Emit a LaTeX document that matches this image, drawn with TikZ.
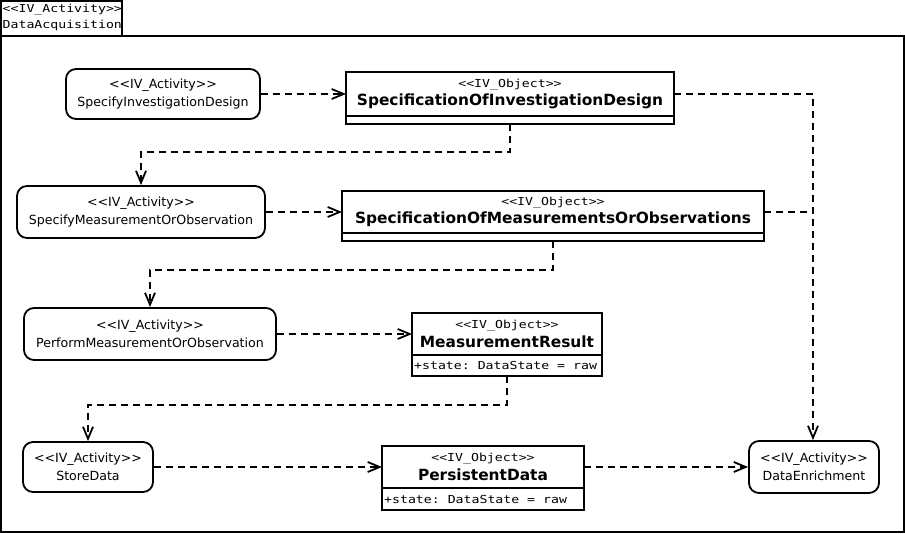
\documentclass[tikz,border=0pt]{standalone}
\usepackage{fontspec}
\setmainfont{DejaVu Sans}
\newfontfamily\umlmono[FakeStretch=1.2]{DejaVu Sans Mono}
\usetikzlibrary{arrows.meta}
\frenchspacing
\newcommand{\umlstereo}[1]{{\umlmono\fontsize{11}{12}\selectfont #1}}
\newcommand{\umlbname}[1]{{\bfseries\fontsize{15.4}{18}\selectfont #1}}
\begin{document}
\begin{tikzpicture}[x=1pt,y=-1pt,
  activity/.style={draw,line width=1.8pt,rounded corners=10pt,align=center,inner sep=0pt,font=\fontsize{12.6}{17.5}\selectfont},
  objname/.style={draw,line width=1.8pt,align=center,inner sep=0pt,outer sep=0pt},
  objattr/.style={draw,line width=1.8pt,anchor=north,inner sep=0pt,outer sep=0pt},
  attrtext/.style={anchor=west,inner sep=0pt,font=\umlmono\fontsize{11}{12}\selectfont},
  flow/.style={line width=1.8pt,dash pattern=on 7pt off 5pt,-{Straight Barb[length=12pt,width=10pt,line width=1.8pt]}},
  flowline/.style={line width=1.8pt,dash pattern=on 7pt off 5pt}]
\useasboundingbox (0,0) rectangle (905,534);
% frame
\draw[line width=1.8pt] (1,36) rectangle (904,532);
\node[draw,line width=1.8pt,minimum width=121pt,minimum height=35pt,inner sep=0pt,outer sep=0pt,anchor=north west] (title) at (1,1) {};
\node[anchor=north west,inner sep=0pt,align=left,font=\umlmono\fontsize{11}{15.5}\selectfont] (titletext) at (2.5,4) {<{}<IV\_Activity>{}>\\DataAcquisition};
% activities
\node[activity,minimum width=194pt,minimum height=50pt] (a1) at (163,94) {<{}<IV\_Activity>{}>\\SpecifyInvestigationDesign};
\node[activity,minimum width=248pt,minimum height=52pt] (a2) at (141,212) {<{}<IV\_Activity>{}>\\SpecifyMeasurementOrObservation};
\node[activity,minimum width=252pt,minimum height=52pt] (a3) at (150,334) {<{}<IV\_Activity>{}>\\PerformMeasurementOrObservation};
\node[activity,minimum width=130pt,minimum height=50pt] (a4) at (88,467) {<{}<IV\_Activity>{}>\\StoreData};
\node[activity,minimum width=130pt,minimum height=52pt] (a5) at (814,467) {<{}<IV\_Activity>{}>\\DataEnrichment};
% objects
\node[objname,minimum width=328pt,minimum height=44pt] (o1) at (510,94) {\umlstereo{<{}<IV\_Object>{}>}\\[3pt]\umlbname{SpecificationOfInvestigationDesign}};
\node[objattr,minimum width=328pt,minimum height=8pt] (o1a) at (o1.south) {};
\node[objname,minimum width=422pt,minimum height=42pt] (o2) at (553,212) {\umlstereo{<{}<IV\_Object>{}>}\\[3pt]\umlbname{SpecificationOfMeasurementsOrObservations}};
\node[objattr,minimum width=422pt,minimum height=8pt] (o2a) at (o2.south) {};
\node[objname,minimum width=190pt,minimum height=42pt] (o3) at (507,334) {\umlstereo{<{}<IV\_Object>{}>}\\[3pt]\umlbname{MeasurementResult}};
\node[objattr,minimum width=190pt,minimum height=21pt] (o3a) at (o3.south) {};
\node[attrtext] (o3t) at ([xshift=2pt]o3a.west) {+state: DataState = raw};
\node[objname,minimum width=202pt,minimum height=42pt] (o4) at (483,467) {\umlstereo{<{}<IV\_Object>{}>}\\[3pt]\umlbname{PersistentData}};
\node[objattr,minimum width=202pt,minimum height=22pt] (o4a) at (o4.south) {};
\node[attrtext] (o4t) at ([xshift=2pt]o4a.west) {+state: DataState = raw};
% connectors
\coordinate (j1) at (813,94);
\coordinate (j2) at (813,212);
\draw[flow] (a1.east) -- (o1.west);
\draw[flow] (o1a.south) -- ++(0,28) -| (a2.north);
\draw[flow] (o1.east) -- (j1) -- (j1 |- a5.north);
\draw[flow] (a2.east) -- (o2.west);
\draw[flowline] (o2.east) -- (j2);
\draw[flow] (o2a.south) -- ++(0,29) -| (a3.north);
\draw[flow] (a3.east) -- (o3.west);
\draw[flow] (o3a.south) -- ++(0,29) -| (a4.north);
\draw[flow] (a4.east) -- (o4.west);
\draw[flow] (o4.east) -- (a5.west);
\end{tikzpicture}
\end{document}
